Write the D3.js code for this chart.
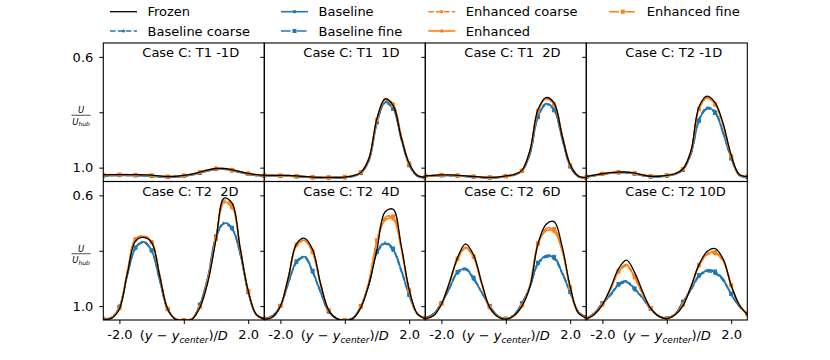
<!DOCTYPE html>
<html>
<head>
<meta charset="utf-8">
<script src="https://cdn.jsdelivr.net/npm/d3@7"></script>
<style>
  body { margin: 0; background: #fff; }
  text { white-space: pre; }
</style>
</head>
<body>
<div id="chart"></div>
<script>
// profile positions (y - y_center)/D
var xGrid = [-2.5, -2.25, -2.0, -1.75, -1.5, -1.25, -1.0, -0.75, -0.5, -0.25, 0.0,
    0.25, 0.5, 0.75, 1.0, 1.25, 1.5, 1.75, 2.0, 2.25, 2.5];

var titles = ["Case C: T1 -1D", "Case C: T1  1D", "Case C: T1  2D", "Case C: T2 -1D",
    "Case C: T2  2D", "Case C: T2  4D", "Case C: T2  6D", "Case C: T2 10D"];

var yTicks = [0.6, 0.8, 1.0];
var yTickLabels = ["0.6", "", "1.0"];
var xTicks = [-2, 0, 2];
var xTickLabels = ["-2.0", "", "2.0"];

// one row per panel, same order as titles
var frozen = [
    [1.026,1.025,1.025,1.025,1.025,1.026,1.027,1.030,1.032,1.031,1.028,1.023,1.016,1.008,1.003,1.003,1.008,1.014,1.021,1.025,1.028],
    [1.028,1.028,1.028,1.028,1.030,1.032,1.034,1.035,1.035,1.035,1.034,1.030,1.017,0.967,0.822,0.752,0.775,0.890,0.985,1.028,1.034],
    [1.030,1.028,1.026,1.026,1.028,1.030,1.032,1.034,1.035,1.034,1.030,1.025,1.010,0.938,0.790,0.747,0.767,0.885,0.990,1.030,1.036],
    [1.032,1.027,1.022,1.018,1.016,1.016,1.020,1.026,1.031,1.031,1.028,1.022,1.005,0.940,0.780,0.742,0.765,0.841,0.955,1.025,1.032],
    [1.047,1.044,1.010,0.880,0.765,0.752,0.770,0.890,1.010,1.048,1.050,1.048,1.005,0.912,0.760,0.610,0.628,0.790,0.945,1.030,1.046],
    [1.047,1.040,1.000,0.895,0.775,0.755,0.795,0.920,1.015,1.045,1.051,1.045,1.005,0.920,0.795,0.660,0.650,0.780,0.940,1.027,1.045],
    [1.045,1.035,0.993,0.915,0.825,0.775,0.815,0.915,1.005,1.038,1.047,1.035,1.000,0.930,0.775,0.705,0.695,0.785,0.930,1.024,1.042],
    [1.047,1.030,0.995,0.935,0.865,0.834,0.878,0.948,1.008,1.037,1.045,1.032,0.999,0.930,0.850,0.803,0.792,0.830,0.925,0.995,1.030]
];
var baseline = [
    [1.029,1.028,1.028,1.028,1.028,1.029,1.030,1.033,1.035,1.034,1.031,1.026,1.019,1.011,1.006,1.006,1.011,1.017,1.024,1.028,1.031],
    [1.030,1.030,1.030,1.031,1.032,1.034,1.036,1.037,1.037,1.037,1.036,1.032,1.020,0.975,0.838,0.765,0.785,0.895,0.990,1.030,1.036],
    [1.031,1.030,1.028,1.028,1.030,1.032,1.034,1.036,1.037,1.036,1.032,1.027,1.013,0.950,0.815,0.770,0.790,0.895,0.995,1.032,1.037],
    [1.034,1.029,1.024,1.020,1.018,1.018,1.022,1.028,1.033,1.033,1.030,1.024,1.008,0.950,0.829,0.785,0.800,0.875,0.965,1.027,1.034],
    [1.047,1.042,1.003,0.885,0.790,0.768,0.800,0.905,1.012,1.047,1.050,1.046,0.995,0.895,0.750,0.700,0.720,0.810,0.950,1.030,1.046],
    [1.046,1.035,1.000,0.915,0.840,0.822,0.875,0.950,1.020,1.045,1.051,1.043,1.000,0.920,0.805,0.772,0.795,0.870,0.960,1.028,1.045],
    [1.044,1.028,0.990,0.935,0.878,0.866,0.900,0.950,1.000,1.035,1.046,1.032,0.990,0.930,0.845,0.820,0.825,0.880,0.950,1.020,1.040],
    [1.046,1.025,0.990,0.960,0.922,0.912,0.938,0.970,1.010,1.035,1.044,1.030,0.985,0.940,0.890,0.872,0.878,0.905,0.957,1.000,1.028]
];
var baselineCoarse = [
    [1.030,1.029,1.028,1.028,1.029,1.030,1.031,1.034,1.035,1.034,1.031,1.026,1.020,1.012,1.007,1.006,1.010,1.017,1.024,1.029,1.031],
    [1.030,1.030,1.031,1.031,1.033,1.035,1.036,1.037,1.037,1.037,1.035,1.031,1.019,0.972,0.834,0.762,0.782,0.892,0.989,1.030,1.035],
    [1.032,1.030,1.029,1.029,1.030,1.032,1.034,1.036,1.037,1.036,1.032,1.027,1.012,0.948,0.812,0.768,0.788,0.893,0.994,1.032,1.037],
    [1.034,1.029,1.024,1.020,1.018,1.019,1.023,1.029,1.033,1.033,1.030,1.024,1.007,0.948,0.825,0.782,0.797,0.872,0.963,1.027,1.034],
    [1.047,1.042,1.004,0.887,0.792,0.770,0.802,0.907,1.013,1.047,1.050,1.046,0.996,0.897,0.753,0.703,0.722,0.812,0.951,1.030,1.046],
    [1.046,1.036,1.001,0.917,0.843,0.825,0.878,0.952,1.021,1.045,1.051,1.043,1.001,0.922,0.808,0.776,0.799,0.873,0.962,1.028,1.045],
    [1.044,1.029,0.991,0.937,0.881,0.869,0.903,0.952,1.001,1.035,1.046,1.032,0.991,0.932,0.848,0.824,0.829,0.883,0.952,1.021,1.040],
    [1.046,1.026,0.991,0.962,0.925,0.915,0.941,0.972,1.011,1.035,1.044,1.030,0.986,0.942,0.893,0.876,0.882,0.908,0.959,1.001,1.028]
];
var baselineFine = [
    [1.029,1.028,1.027,1.028,1.028,1.029,1.030,1.033,1.034,1.033,1.030,1.025,1.019,1.011,1.005,1.005,1.010,1.016,1.023,1.028,1.030],
    [1.029,1.029,1.030,1.030,1.032,1.034,1.035,1.036,1.036,1.036,1.035,1.031,1.019,0.973,0.836,0.768,0.788,0.897,0.991,1.031,1.036],
    [1.031,1.029,1.028,1.028,1.029,1.031,1.033,1.035,1.036,1.035,1.031,1.026,1.012,0.952,0.818,0.773,0.793,0.897,0.996,1.033,1.037],
    [1.033,1.028,1.023,1.019,1.017,1.018,1.022,1.028,1.032,1.032,1.029,1.023,1.008,0.952,0.832,0.788,0.803,0.878,0.967,1.028,1.034],
    [1.046,1.041,1.002,0.883,0.788,0.766,0.798,0.903,1.011,1.046,1.050,1.045,0.994,0.893,0.748,0.697,0.717,0.808,0.949,1.029,1.046],
    [1.045,1.035,0.999,0.913,0.838,0.819,0.872,0.948,1.019,1.044,1.050,1.042,0.999,0.918,0.802,0.769,0.792,0.868,0.959,1.027,1.044],
    [1.043,1.028,0.989,0.933,0.876,0.863,0.897,0.948,0.999,1.034,1.045,1.031,0.989,0.928,0.843,0.817,0.822,0.877,0.949,1.020,1.039],
    [1.045,1.025,0.989,0.958,0.920,0.909,0.936,0.968,1.009,1.034,1.043,1.029,0.984,0.938,0.888,0.869,0.875,0.902,0.955,0.999,1.027]
];
var enhanced = [
    [1.027,1.026,1.026,1.026,1.026,1.027,1.028,1.031,1.033,1.032,1.029,1.024,1.017,1.009,1.004,1.004,1.009,1.015,1.022,1.026,1.029],
    [1.028,1.028,1.028,1.029,1.031,1.033,1.034,1.035,1.035,1.035,1.034,1.030,1.017,0.968,0.826,0.754,0.772,0.885,0.984,1.028,1.034],
    [1.030,1.028,1.027,1.027,1.028,1.030,1.032,1.034,1.035,1.034,1.030,1.025,1.010,0.940,0.795,0.750,0.770,0.882,0.990,1.030,1.036],
    [1.032,1.027,1.022,1.018,1.016,1.016,1.020,1.026,1.031,1.031,1.028,1.022,1.005,0.942,0.787,0.748,0.770,0.846,0.958,1.025,1.032],
    [1.047,1.043,1.008,0.875,0.758,0.748,0.768,0.888,1.010,1.048,1.050,1.047,1.003,0.905,0.755,0.625,0.640,0.792,0.945,1.030,1.046],
    [1.047,1.040,1.000,0.895,0.780,0.762,0.805,0.922,1.015,1.045,1.051,1.045,1.003,0.912,0.765,0.690,0.685,0.790,0.945,1.027,1.045],
    [1.045,1.034,0.993,0.915,0.830,0.789,0.822,0.918,1.005,1.038,1.047,1.035,0.998,0.925,0.775,0.728,0.730,0.800,0.935,1.024,1.042],
    [1.047,1.029,0.995,0.940,0.875,0.852,0.895,0.955,1.008,1.036,1.045,1.031,0.995,0.930,0.853,0.812,0.808,0.835,0.925,0.995,1.030]
];
var enhancedCoarse = [
    [1.027,1.026,1.026,1.026,1.027,1.028,1.029,1.031,1.033,1.032,1.029,1.024,1.017,1.010,1.004,1.004,1.008,1.015,1.022,1.026,1.029],
    [1.028,1.028,1.029,1.029,1.031,1.033,1.035,1.036,1.036,1.035,1.034,1.030,1.016,0.966,0.824,0.752,0.770,0.883,0.983,1.028,1.034],
    [1.030,1.029,1.027,1.027,1.029,1.031,1.033,1.035,1.036,1.035,1.031,1.026,1.010,0.938,0.792,0.748,0.768,0.880,0.989,1.030,1.036],
    [1.032,1.028,1.023,1.019,1.017,1.017,1.021,1.027,1.031,1.031,1.028,1.022,1.004,0.940,0.785,0.746,0.768,0.844,0.957,1.025,1.032],
    [1.047,1.043,1.007,0.873,0.756,0.746,0.766,0.886,1.009,1.048,1.050,1.047,1.002,0.902,0.750,0.618,0.634,0.788,0.943,1.030,1.046],
    [1.047,1.040,1.001,0.897,0.782,0.764,0.807,0.924,1.016,1.045,1.051,1.045,1.004,0.914,0.768,0.683,0.679,0.787,0.944,1.027,1.045],
    [1.045,1.034,0.994,0.917,0.832,0.791,0.825,0.920,1.006,1.038,1.047,1.035,0.999,0.927,0.778,0.722,0.724,0.797,0.934,1.024,1.042],
    [1.047,1.029,0.996,0.942,0.878,0.855,0.898,0.957,1.009,1.036,1.045,1.031,0.996,0.932,0.856,0.815,0.811,0.838,0.927,0.996,1.030]
];
var enhancedFine = [
    [1.026,1.025,1.025,1.025,1.026,1.027,1.028,1.030,1.032,1.031,1.028,1.023,1.016,1.008,1.003,1.003,1.008,1.014,1.021,1.025,1.028],
    [1.027,1.027,1.028,1.028,1.030,1.032,1.034,1.035,1.035,1.034,1.033,1.029,1.016,0.967,0.828,0.756,0.774,0.886,0.985,1.028,1.033],
    [1.029,1.028,1.026,1.026,1.028,1.030,1.032,1.034,1.035,1.034,1.030,1.025,1.011,0.942,0.797,0.752,0.772,0.884,0.991,1.030,1.035],
    [1.031,1.027,1.022,1.018,1.016,1.016,1.020,1.026,1.030,1.030,1.027,1.021,1.005,0.943,0.789,0.750,0.772,0.848,0.959,1.025,1.031],
    [1.046,1.042,1.008,0.876,0.760,0.750,0.770,0.889,1.010,1.047,1.050,1.046,1.003,0.906,0.757,0.628,0.643,0.794,0.946,1.030,1.045],
    [1.046,1.039,0.999,0.894,0.778,0.760,0.803,0.920,1.014,1.044,1.050,1.044,1.002,0.910,0.762,0.680,0.676,0.786,0.943,1.026,1.044],
    [1.044,1.033,0.992,0.914,0.828,0.787,0.820,0.916,1.004,1.037,1.046,1.034,0.997,0.924,0.773,0.720,0.721,0.795,0.933,1.023,1.041],
    [1.046,1.028,0.994,0.939,0.873,0.850,0.893,0.954,1.007,1.035,1.044,1.030,0.994,0.929,0.851,0.809,0.805,0.833,0.924,0.994,1.029]
];

var blue = "#1f77b4", orange = "#ff7f0e";

// drawing order: blue, orange, then frozen on top
var series = [
    { name: "Baseline coarse", data: baselineCoarse, color: blue, dash: "5.5,2.4", marker: "dot", width: 1.5 },
    { name: "Baseline", data: baseline, color: blue, dash: null, marker: "small", width: 1.6 },
    { name: "Baseline fine", data: baselineFine, color: blue, dash: "9.6,2.4,1.5,2.4", marker: "square", width: 1.5 },
    { name: "Enhanced coarse", data: enhancedCoarse, color: orange, dash: "5.5,2.4", marker: "dot", width: 1.5 },
    { name: "Enhanced", data: enhanced, color: orange, dash: null, marker: "small", width: 1.6 },
    { name: "Enhanced fine", data: enhancedFine, color: orange, dash: "9.6,2.4,1.5,2.4", marker: "square", width: 1.5 },
    { name: "Frozen", data: frozen, color: "#000", dash: null, marker: null, width: 1.3 }
];

// legend layout (ncol = 4, filled column by column)
var legendOrder = ["Frozen", "Baseline coarse", "Baseline", "Baseline fine", "Enhanced coarse", "Enhanced", "Enhanced fine"];

var panelLeft = 103.3, panelTop = 43, pw = 161, ph = 138.5;
var font = "DejaVu Sans";

var svg = d3.select("#chart").append("svg")
    .attr("width", 830)
    .attr("height", 360)
    .style("font-family", font);

var x = d3.scaleLinear().domain([-2.5, 2.5]).range([0, pw]);
var y = d3.scaleLinear().domain([0.55, 1.05]).range([0, ph]);

var line = d3.line()
    .x(function(d, j) { return x(xGrid[j]); })
    .y(function(d) { return y(d); })
    .curve(d3.curveCatmullRom.alpha(0.5));

function drawMarker(g, type, color, cx, cy) {
    if (type == "square") {
        g.append("rect").attr("x", cx - 2).attr("y", cy - 2).attr("width", 4).attr("height", 4).attr("fill", color);
    } else if (type == "small") {
        g.append("rect").attr("x", cx - 1.5).attr("y", cy - 1.5).attr("width", 3).attr("height", 3).attr("fill", color);
    } else if (type == "dot") {
        g.append("circle").attr("cx", cx).attr("cy", cy).attr("r", 1.6).attr("fill", color);
    }
}

titles.forEach(function(title, i) {
    var row = Math.floor(i / 4), col = i % 4;
    var g = svg.append("g")
        .attr("transform", "translate(" + (panelLeft + col * pw) + "," + (panelTop + row * ph) + ")");

    g.append("clipPath").attr("id", "clip" + i)
        .append("rect").attr("width", pw).attr("height", ph);

    var plot = g.append("g").attr("clip-path", "url(#clip" + i + ")");

    series.forEach(function(s) {
        plot.append("path")
            .attr("d", line(s.data[i]))
            .attr("fill", "none")
            .attr("stroke", s.color)
            .attr("stroke-width", s.width)
            .attr("stroke-dasharray", s.dash);
        if (s.marker) {
            s.data[i].forEach(function(v, j) {
                if (j % 2 == 0) drawMarker(plot, s.marker, s.color, x(xGrid[j]), y(v));
            });
        }
    });

    // frame
    g.append("rect")
        .attr("width", pw).attr("height", ph)
        .attr("fill", "none").attr("stroke", "#000").attr("stroke-width", 1.1);

    // y ticks on every panel, labels only in the first column
    var yAxis = g.append("g")
        .call(d3.axisLeft(y).tickValues(yTicks).tickSize(4).tickPadding(6)
            .tickFormat(function(d, k) { return col == 0 ? yTickLabels[k] : ""; }));
    yAxis.select(".domain").remove();
    yAxis.selectAll("line").attr("stroke", "#000");
    yAxis.selectAll("text").attr("font-size", 13).attr("font-family", font).attr("fill", "#000");

    if (col == 0) {
        // U / U_hub in place of the middle tick label
        var fy = y(0.8), fx = -22.3;
        g.append("text").attr("x", fx).attr("y", fy + 0.8).attr("text-anchor", "middle")
            .attr("font-size", 8.5).attr("font-style", "italic").text("U");
        g.append("line").attr("x1", fx - 9.5).attr("x2", fx + 9.5)
            .attr("y1", fy + 3).attr("y2", fy + 3).attr("stroke", "#000").attr("stroke-width", 0.7);
        var den = g.append("text").attr("x", fx).attr("y", fy + 12.6).attr("text-anchor", "middle")
            .attr("font-size", 8.5).attr("font-style", "italic");
        den.append("tspan").text("U");
        den.append("tspan").attr("font-size", 6).attr("dy", 1.5).text("hub");
    }

    if (row == 1) {
        var xAxis = g.append("g")
            .attr("transform", "translate(0," + ph + ")")
            .call(d3.axisBottom(x).tickValues(xTicks).tickSize(4).tickPadding(6)
                .tickFormat(function(d, k) { return xTickLabels[k]; }));
        xAxis.select(".domain").remove();
        xAxis.selectAll("line").attr("stroke", "#000");
        xAxis.selectAll("text").attr("font-size", 13).attr("font-family", font).attr("fill", "#000");

        // (y - y_center)/D in place of the middle tick label
        var t = g.append("text")
            .attr("x", x(0)).attr("y", ph + 20)
            .attr("text-anchor", "middle")
            .attr("font-size", 13);
        t.append("tspan").text("(");
        t.append("tspan").attr("font-style", "italic").text("y");
        t.append("tspan").text(" \u2212 ");
        t.append("tspan").attr("font-style", "italic").text("y");
        t.append("tspan").attr("font-style", "italic").attr("font-size", 9).attr("dy", 2.5).text("center");
        t.append("tspan").attr("dy", -2.5).text(")/");
        t.append("tspan").attr("font-style", "italic").text("D");
    }

    g.append("text")
        .attr("x", 39).attr("y", 14.2)
        .attr("font-size", 13)
        .text(title);
});

// legend
var legX = [110, 281, 428.3, 609.3], legY = [11.7, 31];
legendOrder.forEach(function(name, k) {
    var s = series.filter(function(d) { return d.name == name; })[0];
    var lx = legX[Math.floor(k / 2)], ly = legY[k % 2];
    var lg = svg.append("g");
    lg.append("line")
        .attr("x1", lx).attr("x2", lx + 27).attr("y1", ly).attr("y2", ly)
        .attr("stroke", s.color).attr("stroke-width", s.width)
        .attr("stroke-dasharray", s.dash);
    drawMarker(lg, s.marker, s.color, lx + 13.5, ly);
    lg.append("text")
        .attr("x", lx + 37.5).attr("y", ly + 4.7)
        .attr("font-size", 13)
        .text(name);
});
</script>
</body>
</html>
